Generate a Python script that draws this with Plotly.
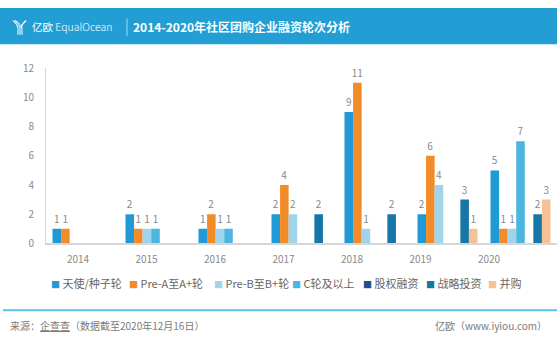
import plotly.graph_objects as go

W, H = 557, 347

years = ['2014', '2015', '2016', '2017', '2018', '2019', '2020']
names = ['天使/种子轮', 'Pre-A至A+轮', 'Pre-B至B+轮', 'C轮及以上', '股权融资', '战略投资', '并购']
angel = [1, 2, 1, 2, 9, 2, 5]
pre_a = [1, 1, 2, 4, 11, 6, 1]
pre_b = [0, 1, 1, 2, 1, 4, 1]
round_c = [0, 1, 1, 0, 0, 0, 7]
equity = [0, 0, 0, 0, 0, 0, 0]
strategic = [0, 0, 0, 2, 2, 3, 2]
mna = [0, 0, 0, 0, 0, 1, 3]
series = [angel, pre_a, pre_b, round_c, equity, strategic, mna]
colors = ['#1F9AD6', '#F28C28', '#A0D4EC', '#4CB6DE', '#1B4F8E', '#1776A8', '#F7C196']
y_ticks = [0, 2, 4, 6, 8, 10, 12]

FONT = 'Noto Sans CJK SC'


def px(x):
    return x / W


def py(y):
    return 1 - y / H


fig = go.Figure()
for name, vals, col in zip(names, series, colors):
    fig.add_trace(go.Bar(
        x=years, y=vals, name=name, marker=dict(color=col, line=dict(width=0)),
        text=[str(v) if v else '' for v in vals], textposition='outside',
        constraintext='none', cliponaxis=False,
        textfont=dict(family=FONT, size=10, color='#8a8a8a'),
        showlegend=False, hoverinfo='x+y+name'))

# invisible trace carrying the year labels axis
fig.add_trace(go.Scatter(x=years, y=[0] * len(years), xaxis='x2', yaxis='y',
                         mode='markers', marker=dict(opacity=0),
                         showlegend=False, hoverinfo='skip'))

shapes = []
# header band
shapes.append(dict(type='rect', xref='paper', yref='paper', x0=0, x1=1, y0=py(38), y1=1,
                   fillcolor='#229ED4', line=dict(width=0), layer='below'))
# separator in header
shapes.append(dict(type='line', xref='paper', yref='paper', x0=px(127), x1=px(127), y0=py(11), y1=py(29),
                   line=dict(color='rgba(255,255,255,0.6)', width=1)))
# logo icon (Y shape)
for dx in (-2, 0, 2):
    shapes.append(dict(type='path', xref='paper', yref='paper',
                       path=f'M{px(14+dx*0.6)},{py(13)} Q{px(20+dx)},{py(18)} {px(20+dx)},{py(21)} L{px(20+dx)},{py(28)}',
                       line=dict(color='white', width=1)))
shapes.append(dict(type='path', xref='paper', yref='paper',
                   path=f'M{px(26)},{py(13)} Q{px(21)},{py(18)} {px(21)},{py(21)}',
                   line=dict(color='white', width=1.5)))
# footer line
shapes.append(dict(type='line', xref='paper', yref='paper', x0=px(3), x1=1, y0=py(316), y1=py(316),
                   line=dict(color='#5BBFE6', width=2)))

annotations = [
    dict(text='亿欧 <span style="font-weight:300">EqualOcean</span>', x=px(30), y=py(19.5),
         xref='paper', yref='paper', xanchor='left', yanchor='middle', showarrow=False,
         font=dict(family=FONT, size=10.5, color='white')),
    dict(text='<b>2014-2020年社区团购企业融资轮次分析</b>', x=px(131), y=py(19.5),
         xref='paper', yref='paper', xanchor='left', yanchor='middle', showarrow=False,
         font=dict(family=FONT, size=12, color='white')),
    dict(text='来源：<u>企查查</u>（数据截至2020年12月16日）', x=px(8), y=py(332),
         xref='paper', yref='paper', xanchor='left', yanchor='middle', showarrow=False,
         font=dict(family=FONT, size=10, color='#7a7a7a')),
    dict(text='亿欧（www.iyiou.com）', x=px(549), y=py(332),
         xref='paper', yref='paper', xanchor='right', yanchor='middle', showarrow=False,
         font=dict(family=FONT, size=10, color='#7a7a7a')),
]

legend_x = [50, 128, 213, 291, 362, 425, 487]
for lx, name, col in zip(legend_x, names, colors):
    annotations.append(dict(
        text=f'<span style="color:{col};font-size:9px">■</span> {name}',
        x=px(lx - 1), y=py(287), xref='paper', yref='paper', xanchor='left', yanchor='middle',
        showarrow=False, font=dict(family=FONT, size=11, color='#666666')))

fig.update_layout(
    width=W, height=H, autosize=False,
    margin=dict(l=0, r=0, t=0, b=0),
    paper_bgcolor='white', plot_bgcolor='rgba(0,0,0,0)',
    barmode='group', bargap=0.178, bargroupgap=0,
    font=dict(family=FONT, color='#888888'),
    xaxis=dict(type='category', domain=[px(46), 1], range=[-0.5, 6.5],
               showticklabels=False, showgrid=False, zeroline=False,
               showline=True, linecolor='#d6d6d6', linewidth=1.5, ticks=''),
    xaxis2=dict(type='category', domain=[px(43.75), px(523.25)], range=[-0.5, 6.5],
                anchor='y', showgrid=False, zeroline=False, showline=False, ticks='',
                tickfont=dict(family=FONT, size=10, color='#8a8a8a'), ticklabelstandoff=9),
    yaxis=dict(domain=[py(246), py(63)], range=[0, 12], tickvals=y_ticks,
               showgrid=False, zeroline=False, showline=True, linecolor='#d6d6d6', linewidth=1,
               ticks='', ticklabelstandoff=9,
               tickfont=dict(family=FONT, size=10, color='#8a8a8a')),
    shapes=shapes, annotations=annotations,
    hovermode='closest',
)

fig.write_html('out.html')
